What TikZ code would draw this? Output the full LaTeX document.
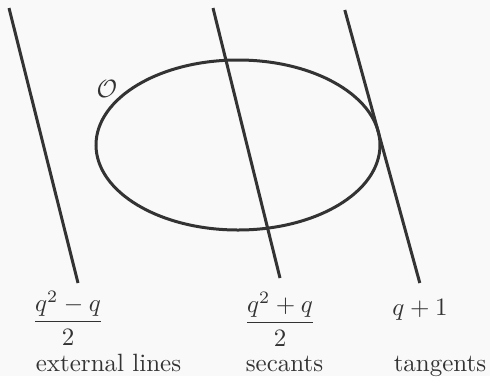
\documentclass[tikz,border=0pt]{standalone}
\usepackage{amsmath}
\usepackage{fontspec}
\usetikzlibrary{shapes.geometric}
\definecolor{ink}{HTML}{333333}
\definecolor{bg}{HTML}{F9F9F9}
\begin{document}
\begin{tikzpicture}[x=1pt,y=-1pt,
  ln/.style={draw=ink,line width=3pt},
  lbl/.style={text=ink,inner sep=0pt,font=\normalsize,scale=2.5,transform shape}]
\fill[bg] (0,0) rectangle (490,376);
\useasboundingbox (0,0) rectangle (490,376);
% conic
\node[ln,ellipse,minimum width=284pt,minimum height=170pt,inner sep=0pt] (conic) at (238,145) {};
% lines
\coordinate (e1) at (9,8);   \coordinate (e2) at (78,283);
\coordinate (s1) at (213,8); \coordinate (s2) at (280,278);
\coordinate (t1) at (344.8,10); \coordinate (t2) at (419.8,283);
\draw[ln] (e1) -- (e2);
\draw[ln] (s1) -- (s2);
\draw[ln] (t1) -- (t2);
% labels
\node[lbl] (O) at (107,89) {$\mathcal{O}$};
\node[lbl] (fe) at (68,318) {$\dfrac{q^2-q}{2}$};
\node[lbl] (fs) at (280,319) {$\dfrac{q^2+q}{2}$};
\node[lbl] (ft) at (420,310) {$q+1$};
\node[lbl,anchor=base] (le) at (108.5,371) {external lines};
\node[lbl,anchor=base] (ls) at (284.5,371) {secants};
\node[lbl,anchor=base] (lt) at (440,371) {tangents};
\end{tikzpicture}
\end{document}
